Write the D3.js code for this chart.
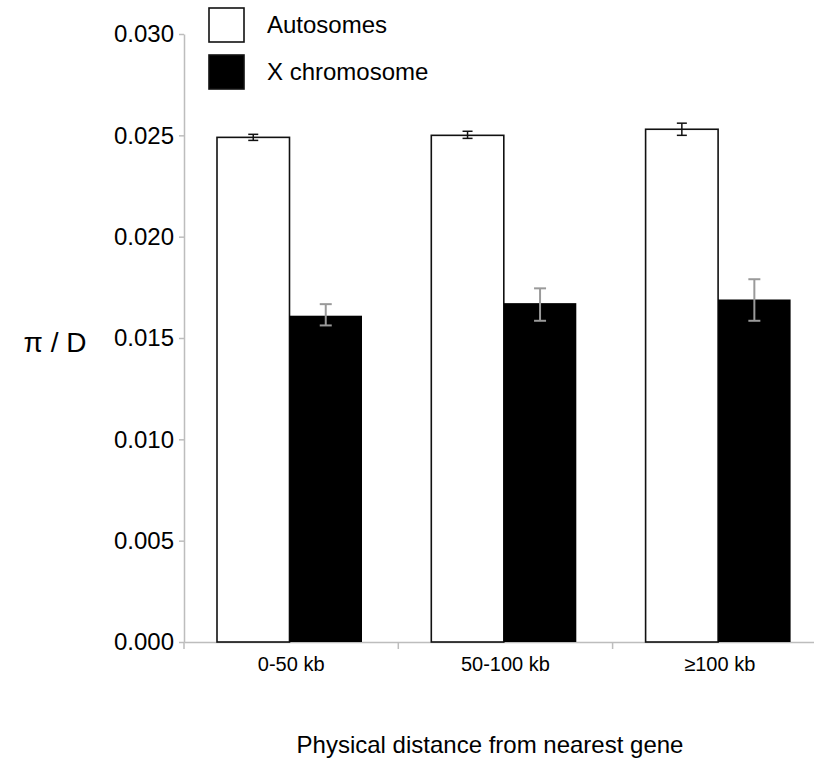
<!DOCTYPE html>
<html lang="en">
<head>
<meta charset="UTF-8">
<title>pi / D by distance from nearest gene</title>
<script src="https://d3js.org/d3.v7.min.js"></script>
<style>
body { margin: 0; background: white; font-family: 'Liberation Sans', Arial, sans-serif; }
.axis path, .axis line { stroke: #bdbdbd; stroke-width: 1.5px; }
.axis text { fill: #000; font-family: 'Liberation Sans', Arial, sans-serif; }
</style>
</head>
<body>
<div id="chart"></div>
<script>

// ---------------- Data ----------------
const categories = ["0-50 kb", "50-100 kb", "\u2265100 kb"];
const series = ["Autosomes", "X chromosome"];
const autoMean = [0.0249, 0.0250, 0.0253];
const autoLow  = [0.02475, 0.02485, 0.0250];
const autoHigh = [0.02505, 0.0252, 0.0256];
const xMean = [0.0161, 0.01672, 0.0169];
const xLow  = [0.01562, 0.01585, 0.01585];
const xHigh = [0.01667, 0.01745, 0.0179];
const yTicks = [0, 0.005, 0.010, 0.015, 0.020, 0.025, 0.030];

const rows = [];
categories.forEach((c, i) => {
  rows.push({cat: c, s: series[0], v: autoMean[i], lo: autoLow[i], hi: autoHigh[i]});
  rows.push({cat: c, s: series[1], v: xMean[i], lo: xLow[i], hi: xHigh[i]});
});

// ---------------- Layout ----------------
const W = 814, H = 762;
const x0 = 184, y0 = 642, yTop = 34, step = 214.3;

const svg = d3.select("#chart").append("svg")
  .attr("width", W).attr("height", H);

const x = d3.scaleBand().domain(categories).range([x0, x0 + step * 3]);
const xs = d3.scaleBand().domain(series).range([33, 178]);
const y = d3.scaleLinear().domain([0, 0.030]).range([y0, yTop]);

// axes
svg.append("g").attr("class", "axis")
  .attr("transform", `translate(${x0},0)`)
  .call(d3.axisLeft(y).tickValues(yTicks).tickFormat(d3.format(".3f"))
    .tickSizeInner(5).tickSizeOuter(0).tickPadding(5))
  .call(g => g.selectAll("text").style("font-size", "24px"));

const xa = svg.append("g").attr("class", "axis")
  .attr("transform", `translate(0,${y0})`)
  .call(d3.axisBottom(x).tickSize(0).tickPadding(15))
  .call(g => g.selectAll("text").style("font-size", "20px"));

xa.selectAll(".sep").data(categories.slice(1).concat(["end"]))
  .join("line").attr("class", "sep")
  .attr("x1", d => d === "end" ? x0 + step * 3 : x(d))
  .attr("x2", d => d === "end" ? x0 + step * 3 : x(d))
  .attr("y1", 0).attr("y2", 7);
xa.append("line").attr("x1", x0).attr("x2", x0).attr("y1", 0).attr("y2", 7);

// bars
svg.selectAll(".bar").data(rows).join("rect")
  .attr("class", "bar")
  .attr("x", d => x(d.cat) + xs(d.s))
  .attr("width", xs.bandwidth())
  .attr("y", d => y(d.v))
  .attr("height", d => y0 - y(d.v))
  .attr("fill", d => d.s === series[0] ? "#fff" : "#000")
  .attr("stroke", d => d.s === series[0] ? "#111" : "none")
  .attr("stroke-width", 1.6);

// error bars
const eb = svg.selectAll(".err").data(rows).join("g")
  .attr("class", "err")
  .attr("stroke", d => d.s === series[0] ? "#111" : "#9a9a9a")
  .attr("stroke-width", d => d.s === series[0] ? 1.5 : 2);
const cx = d => x(d.cat) + xs(d.s) + xs.bandwidth() / 2;
const cw = d => d.s === series[0] ? 5 : 6;
eb.append("line").attr("x1", cx).attr("x2", cx).attr("y1", d => y(d.lo)).attr("y2", d => y(d.hi));
eb.append("line").attr("x1", d => cx(d) - cw(d)).attr("x2", d => cx(d) + cw(d)).attr("y1", d => y(d.lo)).attr("y2", d => y(d.lo));
eb.append("line").attr("x1", d => cx(d) - cw(d)).attr("x2", d => cx(d) + cw(d)).attr("y1", d => y(d.hi)).attr("y2", d => y(d.hi));

// axis titles
svg.append("text").attr("x", 55).attr("y", 352)
  .attr("text-anchor", "middle").style("font-size", "28px")
  .text("\u03c0 / D");
svg.append("text").attr("x", 490).attr("y", 753)
  .attr("text-anchor", "middle").style("font-size", "24px")
  .text("Physical distance from nearest gene");

// legend
const legend = svg.append("g").attr("class", "legend");
series.forEach((s, i) => {
  legend.append("rect")
    .attr("x", 209).attr("y", 8 + i * 47)
    .attr("width", 35).attr("height", 34)
    .attr("fill", i === 0 ? "#fff" : "#000")
    .attr("stroke", "#111").attr("stroke-width", 1.6);
  legend.append("text")
    .attr("x", 267).attr("y", 33 + i * 47)
    .style("font-size", "24px")
    .text(s);
});

</script>
</body>
</html>
